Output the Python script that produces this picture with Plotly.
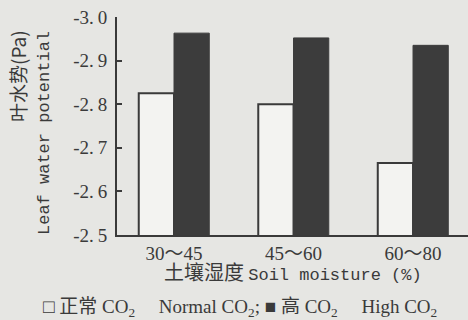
import plotly.graph_objects as go

categories = ["30～45", "45～60", "60～80"]
normal_co2 = [-2.825, -2.80, -2.665]
high_co2 = [-2.963, -2.952, -2.935]
y_tickvals = [-3.0, -2.9, -2.8, -2.7, -2.6, -2.5]
y_ticktext = ["-3.\u20090", "-2.\u20099", "-2.\u20098", "-2.\u20097", "-2.\u20096", "-2.\u20095"]

BG = "#e6e6e3"
INK = "#3a3a3a"
SERIF = "Liberation Serif, Noto Sans CJK SC, serif"
MONO = "Liberation Mono, monospace"

W, H = 468, 320
L, R, T, B = 117, 0, 17, 85
PW, PH = W - L - R, H - T - B

def px_x(x):
    return (x - L) / PW

def px_y(y):
    return (H - B - y) / PH

fig = go.Figure()
fig.add_trace(go.Bar(
    x=categories, y=normal_co2,
    name="正常 CO<sub>2</sub> Normal CO<sub>2</sub>",
    marker=dict(color="#f3f3f1", line=dict(color=INK, width=2)),
))
fig.add_trace(go.Bar(
    x=categories, y=high_co2,
    name="高 CO<sub>2</sub> High CO<sub>2</sub>",
    marker=dict(color="#3c3c3c", line=dict(color="#3c3c3c", width=1)),
))

fig.update_layout(
    width=W, height=H,
    margin=dict(l=L, r=R, t=T, b=B, autoexpand=False),
    paper_bgcolor=BG, plot_bgcolor=BG,
    barmode="group", bargap=0.41, bargroupgap=0,
    font=dict(family=SERIF, color=INK, size=18),
    showlegend=False,
    xaxis=dict(
        range=[-0.477, 2.46], showline=True, linecolor=INK, linewidth=2,
        ticks="", tickfont=dict(family=SERIF, size=19, color=INK),
        showgrid=False, zeroline=False, automargin=False,
    ),
    yaxis=dict(
        range=[-2.5, -3.0], showline=True, linecolor=INK, linewidth=2,
        tickvals=y_tickvals, ticktext=y_ticktext,
        ticks="inside", ticklen=5, tickwidth=2, tickcolor=INK,
        tickfont=dict(family=SERIF, size=19, color=INK),
        ticklabelstandoff=4, automargin=False,
        showgrid=False, zeroline=False,
    ),
)

# axis titles
fig.add_annotation(
    text="叶水势(Pa)", textangle=-90, xref="paper", yref="paper",
    x=px_x(17), y=px_y(28), xanchor="center", yanchor="top",
    showarrow=False, font=dict(family="Noto Sans CJK SC, " + SERIF, size=19, color=INK),
)
fig.add_annotation(
    text="Leaf water potential", textangle=-90, xref="paper", yref="paper",
    x=px_x(44), y=px_y(29), xanchor="center", yanchor="top",
    showarrow=False, font=dict(family=MONO, size=17, color=INK),
)
fig.add_annotation(
    text=("<span style='font-size:20px'>土壤湿度</span> "
          "<span style='font-family:Liberation Mono;font-size:17px'>Soil moisture (%)</span>"),
    xref="paper", yref="paper", x=px_x(293), y=px_y(273),
    xanchor="center", yanchor="middle", showarrow=False,
    font=dict(family=SERIF, size=17, color=INK),
)
# legend line
legend_text = ("□ 正常 CO<sub>2</sub>\u00a0\u00a0\u00a0\u00a0 Normal CO<sub>2</sub>; "
               "■ 高 CO<sub>2</sub>\u00a0\u00a0\u00a0\u00a0 High CO<sub>2</sub>")
fig.add_annotation(
    text=legend_text, xref="paper", yref="paper", x=px_x(240), y=px_y(308),
    xanchor="center", yanchor="middle", showarrow=False,
    font=dict(family=SERIF, size=19, color=INK),
)

fig.write_html(
    "out.html",
    config={"displayModeBar": False},
    post_script="document.body.style.margin='0';document.body.style.background='#e6e6e3';",
)
